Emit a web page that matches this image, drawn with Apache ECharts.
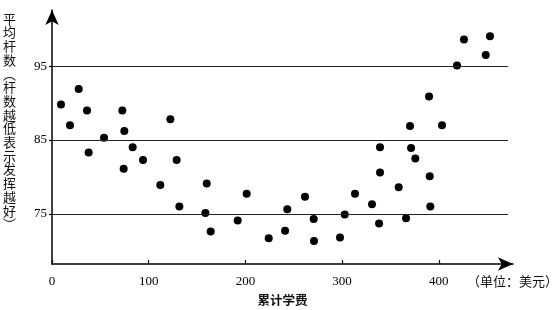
<!DOCTYPE html>
<html><head><meta charset="utf-8">
<script src="https://cdn.jsdelivr.net/npm/echarts@6/dist/echarts.min.js"></script>
<style>html,body{margin:0;padding:0;background:#fff}#c{width:554px;height:310px}</style>
</head><body><div id="c"></div>
<script>
// cumulative tuition (USD)
const tuition = [9.3, 18.6, 27.6, 36.2, 37.9, 53.8, 72.7, 74.1, 74.8, 83.4, 94.1, 112.0, 122.4, 128.9, 131.7, 158.6, 160.0, 164.1, 192.0, 201.3, 224.1, 241.0, 243.3, 261.6, 270.6, 270.9, 297.8, 302.7, 313.3, 330.9, 338.2, 339.2, 339.2, 358.5, 366.1, 370.2, 371.3, 375.7, 389.9, 390.6, 391.2, 403.3, 418.8, 426.0, 448.5, 452.9];
// average strokes
const strokes = [89.8, 87.0, 91.9, 89.0, 83.3, 85.3, 89.0, 81.1, 86.2, 84.0, 82.3, 78.9, 87.8, 82.3, 76.0, 75.1, 79.1, 72.6, 74.1, 77.7, 71.7, 72.7, 75.6, 77.3, 74.3, 71.3, 71.8, 74.9, 77.7, 76.3, 73.7, 80.6, 84.0, 78.6, 74.4, 86.9, 83.9, 82.5, 90.9, 80.1, 76.0, 87.0, 95.1, 98.6, 96.5, 99.05];
const xTicks = [0, 100, 200, 300, 400];
const yTicks = [75, 85, 95];
const xName = '累计学费';
const unitText = '（单位：美元）';
const yName = '平均杆数（杆数越低表示发挥越好）';

const X_MIN = 0, X_MAX = 476.7, Y_MIN = 68.2, Y_MAX = 102.6, GRID_END = 471.5;

const points = tuition.map((x, i) => [x, strokes[i]]);
const yNameVertical = Array.from(yName).map(c => c === '（' ? '︵' : c === '）' ? '︶' : c).join('\n');

const chart = echarts.init(document.getElementById('c'), null, {renderer: 'canvas'});
chart.setOption({
  animation: false,
  backgroundColor: '#fff',
  grid: {left: 52, right: 41, top: 10, bottom: 46, containLabel: false, outerBoundsMode: 'none'},
  xAxis: {
    type: 'value', min: X_MIN, max: X_MAX,
    name: xName, nameLocation: 'middle', nameGap: 30,
    nameTextStyle: {fontFamily: 'Noto Sans CJK SC', fontSize: 12.5, color: '#111', fontWeight: 'bold'},
    axisLine: {show: true, symbol: ['none', 'arrow'], symbolSize: [10, 15], lineStyle: {color: '#000', width: 1.5}},
    axisTick: {show: true, inside: true, length: 4, customValues: xTicks, lineStyle: {color: '#000', width: 1.2}},
    axisLabel: {customValues: xTicks, margin: 11, fontFamily: 'Liberation Serif', fontSize: 13, color: '#000'},
    splitLine: {show: false}
  },
  yAxis: {
    type: 'value', min: Y_MIN, max: Y_MAX,
    axisLine: {show: true, symbol: ['none', 'arrow'], symbolSize: [10, 15], lineStyle: {color: '#000', width: 1.5}},
    axisTick: {show: true, inside: false, length: 3, customValues: yTicks, lineStyle: {color: '#000', width: 1.2}},
    axisLabel: {customValues: yTicks, margin: 5, fontFamily: 'Liberation Serif', fontSize: 13, color: '#000'},
    splitLine: {show: false}
  },
  graphic: [
    {type: 'text', left: 467, top: 275, style: {text: unitText, fontFamily: 'Noto Sans CJK SC', fontSize: 13, fill: '#111'}},
    {type: 'text', left: 3, top: 12, style: {text: yNameVertical, fontFamily: 'Noto Sans CJK SC', fontSize: 13, lineHeight: 13.7, fill: '#111', align: 'left'}}
  ],
  series: [{
    type: 'scatter',
    data: points,
    symbol: 'circle', symbolSize: 8,
    itemStyle: {color: '#000', opacity: 1},
    markLine: {
      silent: true, symbol: 'none', label: {show: false},
      lineStyle: {color: '#222', width: 1, type: 'solid'},
      data: yTicks.map(v => [{coord: [X_MIN, v]}, {coord: [GRID_END, v]}])
    },
    z: 3
  }]
});
</script>
</body></html>
